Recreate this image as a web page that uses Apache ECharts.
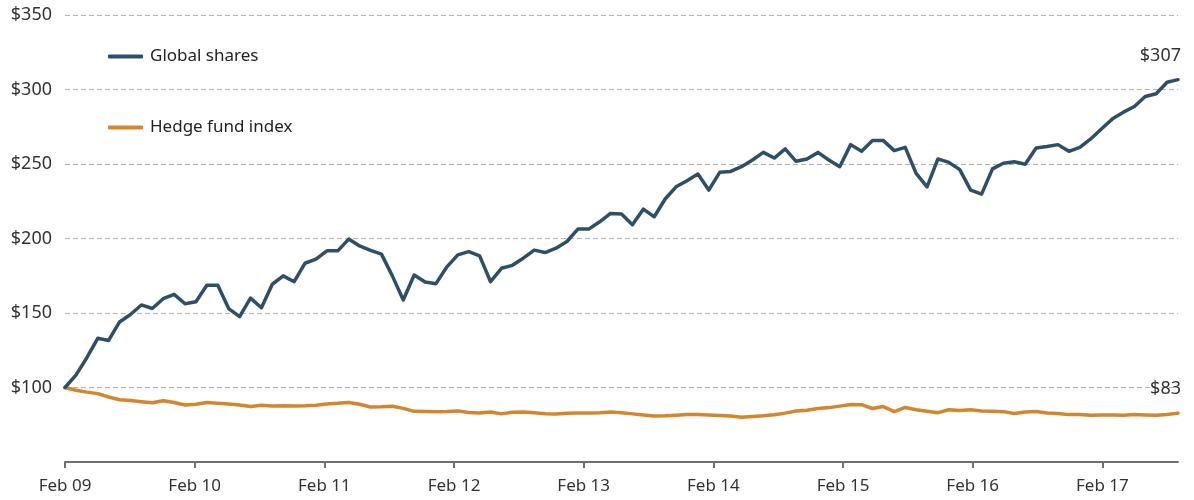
<!DOCTYPE html>
<html>
<head>
<meta charset="utf-8">
<style>
  html, body { margin: 0; padding: 0; background: #fff; }
  #chart { width: 1194px; height: 500px; }
</style>
<script src="https://cdn.jsdelivr.net/npm/echarts@6/dist/echarts.min.js"></script>
</head>
<body>
<div id="chart"></div>
<script>
// year ticks, one every 12 months
var tickLabels = ['Feb 09', 'Feb 10', 'Feb 11', 'Feb 12', 'Feb 13', 'Feb 14', 'Feb 15', 'Feb 16', 'Feb 17'];

var globalShares = [
  100, 108.3, 120, 133, 131.6, 144, 149, 155.4, 153, 159.6, 162.5, 156.2,
  157.6, 168.6, 168.6, 153, 147.5, 160, 153.5, 169.3, 174.9, 171, 183.4, 186.1,
  191.7, 191.7, 199.6, 195, 192, 189.5, 174.9, 158.7, 175.5, 170.8, 169.7, 181,
  189, 191.2, 188.3, 171, 180, 182, 186.8, 192.2, 190.6, 193.5, 198, 206.3,
  206.3, 211.2, 216.8, 216.4, 209.2, 219.7, 214.6, 226.5, 234.7, 238.8, 243.3, 232.5,
  244.4, 245, 248.2, 252.7, 257.8, 254, 260.1, 251.8, 253.4, 257.8, 252.7, 248.2,
  263, 258.5, 265.7, 265.7, 259, 261.2, 243.7, 234.7, 253.4, 251.1, 246.2, 232.5,
  229.8, 246.7, 250.5, 251.5, 249.8, 260.8, 261.7, 263, 258.5, 261.2, 266.8, 273.6,
  280.3, 284.8, 288.6, 295.3, 297.1, 304.9, 306.6
];

var hedgeFund = [
  100, 98.2, 96.9, 95.9, 93.6, 91.8, 91.3, 90.5, 89.8, 91.1, 89.9, 88.3,
  88.8, 89.9, 89.5, 89, 88.2, 87.3, 88.1, 87.6, 87.7, 87.6, 87.7, 88.1,
  89, 89.4, 90, 88.8, 86.9, 87, 87.4, 86, 84, 83.9, 83.7, 83.9,
  84.3, 83.2, 82.9, 83.6, 82.3, 83.4, 83.6, 83.1, 82.4, 82.2, 82.7, 82.9,
  82.9, 83, 83.5, 83, 82.3, 81.6, 80.9, 81, 81.4, 81.8, 81.8, 81.6,
  81.2, 80.9, 80, 80.6, 81, 81.7, 82.8, 84.2, 84.7, 85.9, 86.5, 87.5,
  88.6, 88.5, 85.9, 87.2, 83.8, 86.6, 85.1, 84, 83.1, 85.1, 84.5, 85,
  84.3, 84.1, 83.8, 82.6, 83.6, 83.9, 82.9, 82.6, 81.8, 81.8, 81.4, 81.5,
  81.6, 81.4, 81.8, 81.6, 81.4, 81.9, 82.8
];

var points = globalShares.map(function (v, i) { return i; });
var tickValues = tickLabels.map(function (t, i) { return i * 12; });

var textColor = '#333';
var font = 'Noto Sans';

function endMark(arr) {
  var last = arr.length - 1;
  return {
    symbol: 'circle',
    symbolSize: 1,
    itemStyle: { color: 'rgba(0,0,0,0)' },
    label: {
      show: true,
      position: 'inside',
      align: 'right',
      verticalAlign: 'middle',
      offset: [3, -24],
      color: textColor,
      fontFamily: font,
      fontSize: 18,
      formatter: function (p) { return '$' + Math.round(p.value); }
    },
    data: [{ coord: [last, arr[last]], value: arr[last] }]
  };
}

var myChart = echarts.init(document.getElementById('chart'));
option = {
  animation: false,
  textStyle: { fontFamily: font },
  grid: { left: 65, right: 16, top: 15, bottom: 38 },
  legend: {
    orient: 'vertical',
    left: 103,
    top: 43,
    itemWidth: 35,
    itemHeight: 4,
    itemGap: 54,
    icon: 'roundRect',
    textStyle: { color: '#222', fontSize: 17, fontFamily: font, padding: [0, 0, 0, 2] },
    data: ['Global shares', 'Hedge fund index']
  },
  xAxis: [
    {
      type: 'value',
      min: 0,
      max: 103,
      interval: 12,
      position: 'bottom',
      axisLine: { lineStyle: { color: '#707070', width: 2 } },
      axisTick: { show: true, length: 6, customValues: tickValues, lineStyle: { color: '#707070', width: 2 } },
      axisLabel: {
        customValues: tickValues,
        margin: 16,
        color: textColor,
        fontSize: 17,
        fontFamily: font,
        formatter: function (v) { return tickLabels[Math.round(v / 12)] || ''; }
      },
      splitLine: { show: false }
    },
    {
      type: 'category',
      data: points,
      boundaryGap: false,
      show: false,
      position: 'top'
    }
  ],
  yAxis: {
    type: 'value',
    min: 50,
    max: 350,
    interval: 50,
    axisLine: { show: false },
    axisTick: { show: false },
    axisLabel: {
      margin: 13,
      color: textColor,
      fontSize: 18,
      fontFamily: font,
      formatter: function (v) { return v === 50 ? '' : '$' + v; }
    },
    splitLine: {
      show: true,
      lineStyle: { color: '#b3b3b3', type: [5, 3], width: 1 }
    }
  },
  series: [
    {
      name: 'Global shares',
      type: 'line',
      xAxisIndex: 1,
      showSymbol: false,
      symbol: 'none',
      color: '#2d5068',
      lineStyle: { width: 3.5, join: 'round', cap: 'round' },
      data: globalShares,
      markPoint: endMark(globalShares),
      z: 3
    },
    {
      name: 'Hedge fund index',
      type: 'line',
      xAxisIndex: 1,
      showSymbol: false,
      symbol: 'none',
      color: '#d4862c',
      lineStyle: { width: 3.5, join: 'round', cap: 'round' },
      data: hedgeFund,
      markPoint: endMark(hedgeFund),
      z: 2
    }
  ]
};
myChart.setOption(option);
</script>
</body>
</html>
